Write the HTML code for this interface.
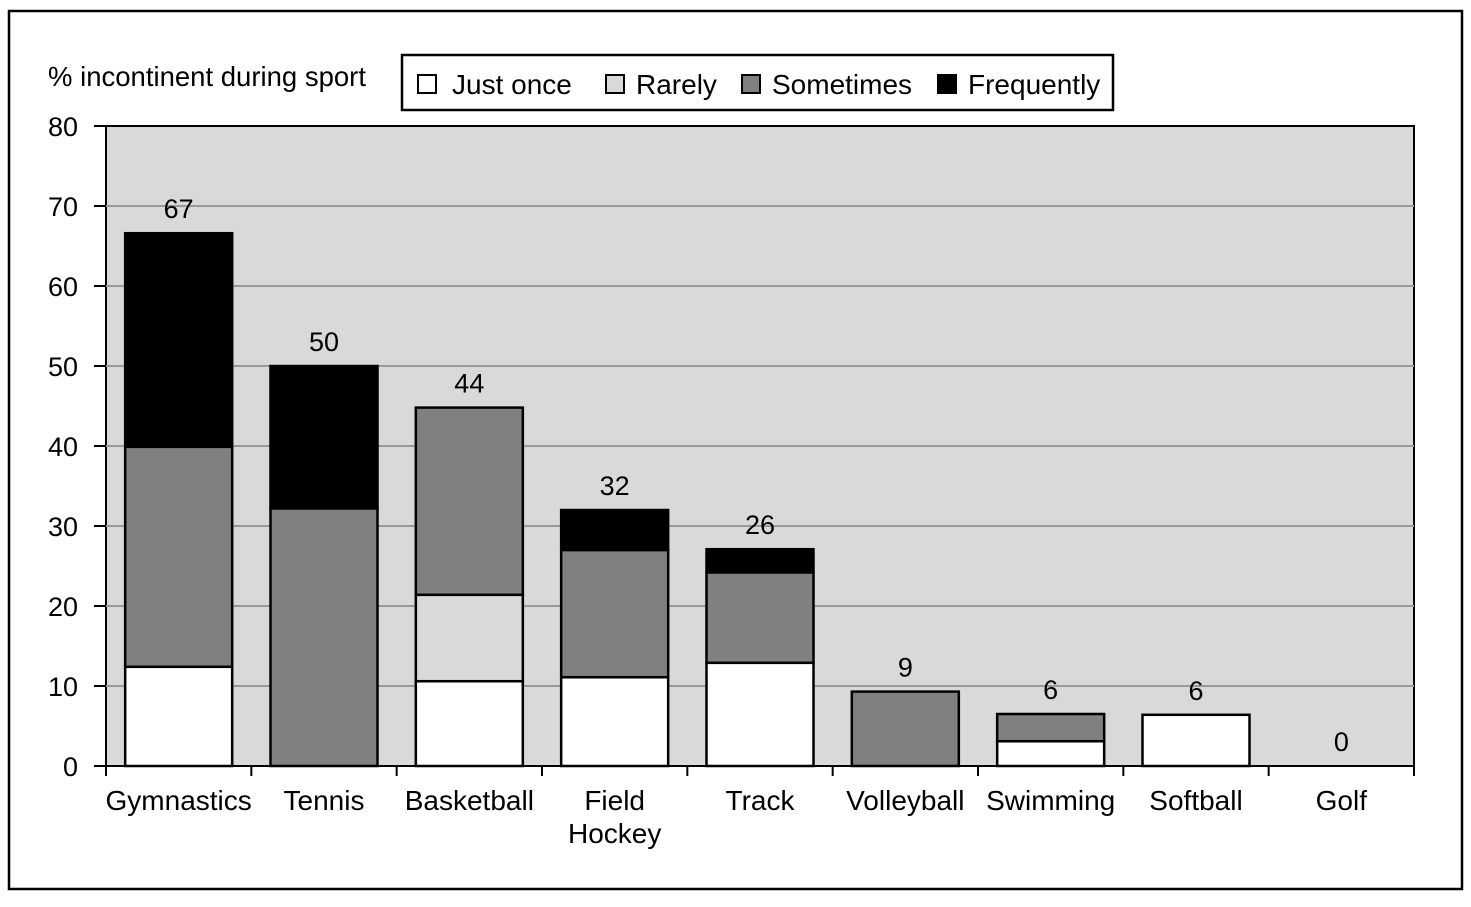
<!DOCTYPE html>
<html><head><meta charset="utf-8"><style>
body{margin:0;background:#fff;}
svg text{font-family:"Liberation Sans",Arial,sans-serif;fill:#000;}
</style></head><body>
<svg width="1471" height="902" xmlns="http://www.w3.org/2000/svg">
<rect x="9" y="11" width="1453" height="878" fill="#fff" stroke="#000" stroke-width="2.5"/>
<rect x="106" y="126" width="1308" height="640" fill="#d9d9d9" stroke="#000" stroke-width="2"/>
<text x="48" y="86" font-size="27.5">% incontinent during sport</text>
<g id="grid"></g>
<g id="bars"></g>
<g id="axes"></g>
<g>
<rect x="402" y="55" width="711" height="55" fill="#fff" stroke="#000" stroke-width="2.5"/>
<rect x="418" y="75" width="18" height="18" fill="#fff" stroke="#000" stroke-width="2"/>
<text x="452" y="94" font-size="28">Just once</text>
<rect x="606" y="75" width="18" height="18" fill="#d9d9d9" stroke="#000" stroke-width="2"/>
<text x="636" y="94" font-size="28">Rarely</text>
<rect x="742" y="75" width="18" height="18" fill="#808080" stroke="#000" stroke-width="2"/>
<text x="772" y="94" font-size="28">Sometimes</text>
<rect x="938" y="75" width="18" height="18" fill="#000" stroke="#000" stroke-width="2"/>
<text x="968" y="94" font-size="28">Frequently</text>
</g>
</svg>
<script>
const categories=[["Gymnastics"],["Tennis"],["Basketball"],["Field","Hockey"],["Track"],["Volleyball"],["Swimming"],["Softball"],["Golf"]];
const justOnce=[12.4,0,10.6,11.1,12.9,0,3.1,6.4,0];
const rarely=[0,0,10.8,0,0,0,0,0,0];
const sometimes=[27.5,32.2,23.4,15.9,11.3,9.3,3.4,0,0];
const frequently=[26.7,17.8,0,5,2.9,0,0,0,0];
const totalLabels=["67","50","44","32","26","9","6","6","0"];
const yTicks=[0,10,20,30,40,50,60,70,80];
const NS="http://www.w3.org/2000/svg";
const x0=106,x1=1414,yTop=126,yBot=766,yMax=80;
const band=(x1-x0)/categories.length, bw=107;
const y=v=>yBot-(v/yMax)*(yBot-yTop);
const xc=i=>x0+band*(i+0.5);
function mk(t,a,p){const e=document.createElementNS(NS,t);for(const k in a)e.setAttribute(k,a[k]);p.appendChild(e);return e;}
const grid=document.getElementById('grid'),bars=document.getElementById('bars'),axes=document.getElementById('axes');
yTicks.forEach(v=>{
 if(v>0&&v<yMax){const l=mk('line',{x1:x0,x2:x1,y1:y(v),y2:y(v),stroke:'#999','stroke-width':2},grid);
 
 }
 const t=mk('line',{x1:94,x2:x0,y1:y(v),y2:y(v),stroke:'#000','stroke-width':2},axes);
 
 
 const tx=mk('text',{x:78,y:y(v)+10,'font-size':27,'text-anchor':'end'},axes);tx.textContent=v;
 
 
});
for(let i=0;i<=categories.length;i++){
 const X=x0+band*i;const t=mk('line',{x1:X,x2:X,y1:yBot,y2:yBot+10,stroke:'#000','stroke-width':2},axes);
 
 
}
const series=[[justOnce,'#fff','just-once'],[rarely,'#d9d9d9','rarely'],[sometimes,'#808080','sometimes'],[frequently,'#000','frequently']];
categories.forEach((c,i)=>{
 let acc=0;
 series.forEach(([arr,col,nm])=>{
  const v=arr[i];if(v>0){
   const r=mk('rect',{x:xc(i)-bw/2,y:y(acc+v),width:bw,height:y(acc)-y(acc+v),fill:col,stroke:'#000','stroke-width':2.5},bars);
   
   
  }
  acc+=v;
 });
 const lt=mk('text',{x:xc(i),y:y(acc)-15,'font-size':27,'text-anchor':'middle'},bars);lt.textContent=totalLabels[i];
 
 
 c.forEach((line,j)=>{
  const t=mk('text',{x:xc(i),y:810+j*33,'font-size':28,'text-anchor':'middle'},axes);t.textContent=line;
  
  
 });
});
</script>
</body></html>
